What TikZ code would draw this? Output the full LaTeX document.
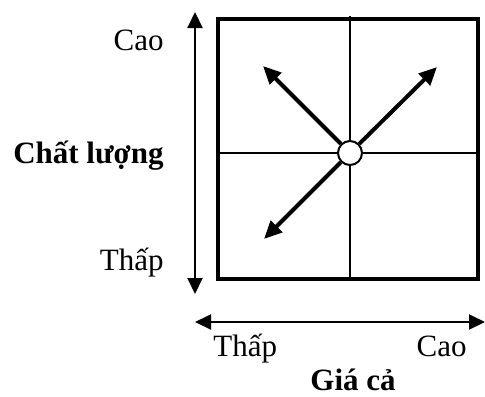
\documentclass[tikz,border=0pt]{standalone}
\usepackage{fontspec}
\setmainfont{Liberation Serif}
\usetikzlibrary{arrows.meta}
\tikzset{
  lbl/.style={inner sep=0pt, font=\fontsize{15.5}{18}\selectfont},
  blbl/.style={lbl, font=\fontsize{15.5}{18}\selectfont\bfseries},
  axis/.style={{Triangle[length=8pt,width=7.5pt]}-{Triangle[length=8pt,width=7.5pt]}, line width=1pt},
  diag/.style={-{Triangle[length=9pt,width=8pt]}, line width=2pt},
  grid/.style={line width=1pt},
  centre/.style={circle, draw, fill=white, line width=1pt, minimum size=12pt, inner sep=0pt},
}
\begin{document}
\begin{tikzpicture}[x=0.5pt, y=-0.5pt]
\useasboundingbox (0,0) rectangle (485,396);

%% frame and cross
\draw[line width=2pt] (218,19) rectangle (478,279);
\coordinate (vtop) at (350,16);
\coordinate (vbot) at (350,279);
\coordinate (hl) at (218,153);
\coordinate (hr) at (478,153);
\draw[grid] (vtop) -- (vbot);
\draw[grid] (hl) -- (hr);

%% axes
\coordinate (qtop) at (195,12);
\coordinate (qbot) at (195,294);
\draw[axis] (qbot) -- (qtop);
\coordinate (pl) at (195,322);
\coordinate (pr) at (485,322);
\draw[axis] (pl) -- (pr);

%% centre point and directions
\node[centre] (c) at (350,153) {};
\coordinate (ul) at (263,66);
\coordinate (ur) at (437,67);
\coordinate (ll) at (264,239);
\draw[diag] (c) -- (ul);
\draw[diag] (c) -- (ur);
\draw[diag] (c) -- (ll);

%% labels
\node[lbl, anchor=base east] (qhi) at (164,50) {Cao};
\node[blbl, anchor=base east] (qname) at (164,163) {Chất lượng};
\node[lbl, anchor=base east] (qlo) at (164,270) {Thấp};
\node[lbl, anchor=base west] (plo) at (213,356) {Thấp};
\node[lbl, anchor=base east] (phi) at (467,356) {Cao};
\node[blbl, anchor=base] (pname) at (353,390) {Giá cả};

\end{tikzpicture}
\end{document}
